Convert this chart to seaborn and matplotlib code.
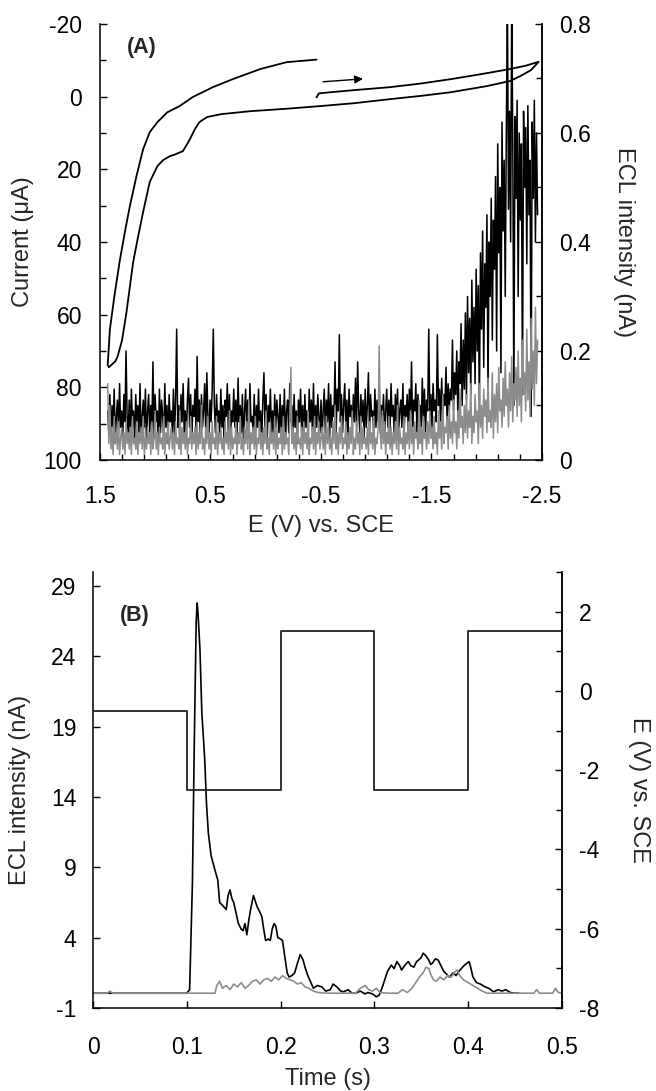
import numpy as np
import pandas as pd
import matplotlib
matplotlib.use("Agg")
import matplotlib.pyplot as plt
from matplotlib.ticker import FixedLocator, MultipleLocator, FuncFormatter
import seaborn as sns

# ---------------- Panel A data ----------------
# cyclic voltammogram (E in V vs SCE, current in uA; positive = anodic, plotted downward)
cv_e = [-0.46, -0.48, -0.58, -0.80, -1.12, -1.40, -1.67, -1.95, -2.21, -2.35, -2.47,
        -2.40, -2.30, -2.21, -2.00, -1.67, -1.40, -1.12, -0.80, -0.49, -0.20, 0.14, 0.40,
        0.53, 0.60, 0.64, 0.70, 0.75, 0.82, 0.87, 0.93, 0.98, 1.05, 1.11, 1.16, 1.20, 1.26,
        1.30, 1.34, 1.36, 1.42,
        1.43, 1.41, 1.37, 1.32, 1.27, 1.23, 1.17, 1.11, 1.05, 0.98, 0.89, 0.78, 0.66, 0.48,
        0.30, 0.05, -0.19, -0.46]
cv_i = [0.2, -0.9, -1.2, -1.8, -2.6, -3.6, -4.8, -6.2, -7.6, -8.5, -9.6,
        -7.3, -5.6, -4.3, -2.9, -1.2, -0.2, 0.7, 1.8, 2.6, 3.3, 4.0, 4.8,
        5.6, 7.0, 8.9, 12.5, 15.0, 15.9, 16.4, 17.5, 19.1, 23.5, 31.8, 39.3, 45.6, 59.3,
        67.0, 71.5, 72.8, 74.5,
        73.8, 64.0, 55.0, 45.0, 36.5, 30.2, 21.9, 14.5, 9.8, 7.0, 4.3, 2.6, 0.1, -2.6,
        -4.8, -7.6, -9.5, -10.2]

# ECL intensity recorded along the scan (in units of 0.01 nA), E = 1.43 V ... -2.46 V
ecl_e_start, ecl_e_end = 1.43, -2.46
ecl_black_a_centi = [
    9, 5, 12, 4, 10, 6, 13, 3, 8, 11, 5, 14, 6, 9, 4, 12, 7, 20, 8, 5,
    11, 4, 13, 6, 9, 3, 12, 7, 10, 5, 14, 4, 8, 11, 6, 13, 3, 9, 12, 5,
    10, 6, 18, 4, 12, 7, 9, 3, 13, 5, 11, 8, 4, 14, 6, 10, 3, 12, 7, 9,
    5, 13, 4, 11, 24, 6, 10, 3, 12, 7, 14, 5, 9, 4, 11, 15, 6, 12, 3, 10,
    8, 13, 5, 19, 7, 11, 4, 12, 6, 9, 14, 5, 16, 8, 4, 11, 7, 13, 24, 10,
    5, 12, 7, 9, 4, 13, 6, 10, 3, 11, 8, 14, 5, 12, 4, 9, 7, 13, 6, 11,
    4, 15, 7, 10, 5, 12, 3, 9, 13, 6, 11, 4, 14, 7, 8, 5, 12, 3, 10, 6,
    13, 5, 9, 4, 11, 16, 6, 12, 3, 10, 7, 13, 5, 9, 4, 12, 6, 11, 8, 5,
    12, 4, 10, 6, 13, 3, 9, 11, 5, 14, 7, 10, 4, 12, 6, 9, 3, 11, 7, 13,
    5, 10, 4, 12, 6, 9, 3, 13, 7, 11, 5, 14, 4, 10, 6, 12, 8, 5, 11, 4,
    9, 13, 5, 11, 7, 14, 4, 12, 6, 10, 8, 18, 5, 13, 9, 23, 7, 12, 5, 10,
    14, 6, 11, 4, 13, 8, 10, 5, 12, 7, 15, 6, 18, 9, 5, 12, 7, 11, 4, 13,
    6, 10, 16, 5, 12, 8, 9, 4, 13, 6, 11, 7, 14, 5, 10, 8, 12, 4, 9, 13,
    6, 11, 5, 14, 8, 10, 4, 12, 7, 13, 5, 9, 11, 6, 14, 4, 10, 8, 12, 5,
    13, 7, 18, 6, 11, 9, 14, 5, 12, 8, 10, 6, 15, 7, 13, 5, 11, 9, 24, 8,
    12, 6, 14, 9, 11, 7, 23, 10, 13, 6, 15, 8, 12, 10, 17, 7, 14, 9, 13, 11,
    22, 9, 16, 12, 20, 8, 18, 14, 25, 10, 22, 13, 27, 11, 30, 16, 26, 12, 33, 18,
    28, 14, 35, 20, 32, 9, 38, 24, 42, 17, 36, 28, 45, 12, 40, 30, 48, 22, 44, 35,
    52, 20, 58, 38, 50, 16, 62, 42, 55, 30, 60, 85, 46, 64, 40, 85, 58, 10, 63, 48,
    66, 30, 60, 44, 58, 12, 64, 50, 61, 36, 65, 45, 55, 8, 62, 48, 66, 40, 60, 45]
ecl_gray_a_centi = [
    14, 3, 10, 2, 6, 1, 8, 3, 5, 2, 7, 1, 4, 6, 2, 5, 1, 7, 3, 5,
    2, 6, 1, 8, 3, 4, 2, 7, 1, 5, 3, 6, 2, 8, 1, 4, 2, 6, 3, 5,
    1, 7, 2, 4, 9, 2, 5, 1, 6, 3, 4, 2, 8, 1, 5, 3, 7, 2, 4, 6,
    2, 5, 1, 7, 3, 4, 2, 9, 1, 6, 3, 5, 2, 7, 1, 4, 3, 8, 2, 5,
    3, 6, 1, 7, 2, 5, 3, 10, 2, 4, 1, 6, 3, 8, 2, 5, 1, 7, 3, 4,
    2, 8, 1, 5, 3, 6, 2, 4, 1, 7, 3, 5, 2, 9, 1, 6, 2, 4, 3, 7,
    1, 5, 3, 8, 2, 4, 1, 6, 3, 7, 2, 11, 1, 5, 3, 6, 2, 8, 1, 4,
    3, 7, 2, 5, 1, 6, 3, 9, 2, 4, 1, 7, 3, 5, 2, 8, 1, 6, 2, 4,
    3, 6, 1, 8, 2, 5, 3, 4, 1, 7, 17, 3, 6, 2, 5, 1, 8, 3, 4, 2,
    6, 1, 7, 3, 5, 2, 9, 1, 4, 3, 6, 2, 8, 1, 5, 3, 7, 2, 4, 6,
    2, 5, 1, 8, 3, 6, 2, 4, 1, 7, 3, 10, 2, 5, 1, 6, 3, 8, 2, 4,
    3, 7, 1, 5, 2, 6, 3, 9, 1, 4, 2, 7, 3, 5, 1, 8, 2, 6, 3, 4,
    2, 6, 1, 7, 3, 5, 2, 8, 1, 4, 3, 6, 21, 5, 2, 9, 3, 7, 1, 5,
    3, 8, 2, 6, 1, 5, 3, 7, 2, 10, 1, 6, 3, 4, 2, 8, 1, 5, 3, 7,
    2, 9, 3, 6, 1, 7, 4, 5, 2, 11, 3, 6, 1, 8, 4, 5, 2, 7, 3, 9,
    4, 6, 2, 8, 3, 5, 1, 9, 4, 7, 2, 12, 3, 6, 5, 8, 2, 10, 4, 7,
    3, 11, 5, 7, 2, 9, 4, 13, 6, 8, 3, 10, 5, 12, 4, 9, 6, 14, 3, 8,
    5, 12, 7, 9, 3, 14, 6, 10, 4, 13, 8, 11, 5, 15, 7, 9, 6, 16, 4, 12,
    7, 14, 5, 17, 9, 11, 6, 15, 8, 18, 10, 13, 6, 16, 9, 19, 7, 14, 11, 17,
    8, 20, 10, 15, 7, 22, 12, 16, 9, 24, 11, 18, 8, 26, 13, 20, 10, 28, 14, 22]

# ---------------- Panel B data ----------------
step_times = [0.0, 0.1, 0.2, 0.3, 0.4, 0.5]
step_levels = [-0.5, -2.5, 1.5, -2.5, 1.5, 1.5]

ecl_black_t = [0.0, 0.1, 0.103, 0.106, 0.108, 0.110, 0.111, 0.112, 0.114, 0.116, 0.119, 0.121, 0.123, 0.126,
               0.130, 0.133, 0.135, 0.138, 0.142, 0.144, 0.146, 0.148, 0.150, 0.153, 0.155, 0.158, 0.160, 0.162,
               0.164, 0.166, 0.168, 0.171, 0.173, 0.175, 0.178, 0.180, 0.182, 0.184, 0.187, 0.189, 0.191, 0.193,
               0.195, 0.197, 0.200, 0.202, 0.205, 0.207, 0.209, 0.212, 0.215, 0.218, 0.221, 0.224, 0.226, 0.229,
               0.231, 0.235, 0.239, 0.244, 0.248, 0.253, 0.256, 0.260, 0.264, 0.267, 0.272, 0.276, 0.280, 0.285,
               0.290, 0.293, 0.298, 0.302, 0.305, 0.308, 0.311, 0.314, 0.318, 0.321, 0.324, 0.327, 0.329, 0.332,
               0.336, 0.339, 0.342, 0.345, 0.347, 0.350, 0.352, 0.355, 0.358, 0.360, 0.362, 0.365, 0.368, 0.371,
               0.374, 0.377, 0.380, 0.384, 0.387, 0.390, 0.394, 0.397, 0.401, 0.403, 0.405, 0.409, 0.413, 0.418,
               0.422, 0.427, 0.432, 0.436, 0.440, 0.445, 0.450, 0.454]
ecl_black_v = [0.05, 0.05, 0.3, 8.0, 18.0, 26.5, 27.8, 27.0, 24.5, 20.0, 16.8, 13.5, 11.4, 9.8,
               8.8, 8.1, 6.5, 6.3, 6.0, 7.0, 7.4, 6.8, 6.5, 5.6, 5.0, 4.6, 4.5, 5.0,
               4.2, 5.2, 6.0, 7.0, 6.6, 6.2, 5.8, 5.5, 4.6, 3.8, 3.9, 3.8, 4.6, 5.0,
               4.8, 4.0, 3.9, 3.8, 2.4, 1.5, 1.2, 1.3, 1.5, 2.2, 2.8, 2.4, 1.9, 1.3,
               1.0, 0.4, 0.6, 0.5, 0.2, 0.3, 0.7, 0.5, 0.2, 0.15, 0.3, 0.05, 0.05, 0.2,
               0.0, 0.1, 0.0, -0.2, -0.1, 0.4, 1.0, 1.6, 2.05, 1.8, 2.3, 2.0, 1.7, 2.0,
               2.3, 2.0, 1.9, 2.3, 2.4, 2.6, 2.9, 2.7, 2.4, 2.1, 2.2, 2.5, 2.4, 2.0,
               1.6, 1.4, 1.2, 1.5, 1.3, 1.6, 1.9, 2.1, 2.3, 1.8, 1.2, 0.8, 0.7, 0.5,
               0.4, 0.15, 0.3, 0.2, 0.3, 0.1, 0.05, 0.05]

ecl_gray_t = [0.0, 0.015, 0.018, 0.021, 0.13, 0.132, 0.135, 0.138, 0.142, 0.146, 0.150, 0.154, 0.158,
              0.162, 0.166, 0.170, 0.174, 0.178, 0.182, 0.186, 0.190, 0.194, 0.198, 0.202, 0.206, 0.210,
              0.214, 0.218, 0.222, 0.226, 0.230, 0.235, 0.240, 0.250, 0.280, 0.285, 0.290, 0.294, 0.298,
              0.302, 0.306, 0.315, 0.325, 0.330, 0.335, 0.340, 0.344, 0.348, 0.352, 0.355, 0.358, 0.360,
              0.363, 0.366, 0.370, 0.374, 0.378, 0.382, 0.385, 0.388, 0.391, 0.395, 0.400, 0.405, 0.410,
              0.415, 0.420, 0.470, 0.473, 0.476, 0.490, 0.493, 0.496, 0.500]
ecl_gray_v = [0.05, 0.05, 0.2, 0.05, 0.05, 0.6, 0.9, 0.4, 0.6, 0.3, 0.7, 0.5, 0.8,
              0.4, 0.6, 0.9, 1.0, 0.7, 1.0, 1.1, 0.9, 1.2, 1.0, 1.3, 1.1, 1.0,
              0.9, 0.7, 0.8, 0.5, 0.4, 0.2, 0.1, 0.05, 0.05, 0.4, 0.6, 0.3, 0.2,
              0.4, 0.1, 0.05, 0.05, 0.3, 0.1, 0.4, 0.8, 1.2, 1.5, 1.9, 1.8, 1.4,
              1.0, 0.9, 1.2, 1.0, 1.3, 1.2, 1.5, 1.7, 1.3, 1.0, 0.8, 0.6, 0.4,
              0.2, 0.05, 0.05, 0.3, 0.05, 0.05, 0.4, 0.1, 0.05]

# ---------------- styling ----------------
sns.set_theme(style="ticks")
plt.rcParams['font.family'] = ['Liberation Sans', 'DejaVu Sans']
plt.rcParams.update({
    'axes.unicode_minus': False,
    'axes.linewidth': 1.1,
    'axes.edgecolor': 'black',
    'xtick.color': 'black', 'ytick.color': 'black',
    'xtick.direction': 'in', 'ytick.direction': 'in',
    'xtick.major.size': 5, 'ytick.major.size': 5,
    'xtick.minor.size': 4, 'ytick.minor.size': 4,
    'xtick.major.width': 1.0, 'ytick.major.width': 1.0,
    'xtick.minor.width': 1.0, 'ytick.minor.width': 1.0,
})
TICK_FS = 16.5
LAB_FS = 17

fmt1 = FuncFormatter(lambda v, p: "0" if abs(v) < 1e-9 else f"{v:.1f}")

fig = plt.figure(figsize=(6.56, 10.91), dpi=100)

# ---------------- Panel A ----------------
axA = fig.add_axes([0.1524, 0.5784, 0.6738, 0.3996])
axA2 = axA.twinx()

ecl_black_a = np.array(ecl_black_a_centi) / 100.0
ecl_gray_a = np.array(ecl_gray_a_centi) / 100.0
ecl_e = np.linspace(ecl_e_start, ecl_e_end, len(ecl_black_a))

sns.lineplot(x=cv_e, y=cv_i, ax=axA, sort=False, estimator=None, color='black', lw=1.3)
sns.lineplot(x=ecl_e, y=ecl_black_a, ax=axA2, sort=False, estimator=None, color='black', lw=1.1)
sns.lineplot(x=ecl_e, y=ecl_gray_a, ax=axA2, sort=False, estimator=None, color='#8c8c8c', lw=1.1)

axA.set_xlim(1.5, -2.5)
axA.set_ylim(100, -20)
axA2.set_ylim(0, 0.8)

axA.xaxis.set_major_locator(FixedLocator([1.5, 0.5, -0.5, -1.5, -2.5]))
axA.xaxis.set_minor_locator(FixedLocator([1.5 - 0.2 * k for k in range(21)]))
axA.xaxis.set_major_formatter(FuncFormatter(lambda v, p: f"{v:.1f}"))
axA.yaxis.set_major_locator(MultipleLocator(20))
axA.yaxis.set_minor_locator(MultipleLocator(10))
axA2.yaxis.set_major_locator(MultipleLocator(0.2))
axA2.yaxis.set_minor_locator(MultipleLocator(0.1))
axA2.yaxis.set_major_formatter(fmt1)

axA.tick_params(axis='both', which='both', direction='in', labelsize=TICK_FS, top=False, right=False)
axA.tick_params(axis='y', which='both', pad=13)
axA.tick_params(axis='x', which='both', pad=18)
axA2.tick_params(axis='y', which='both', direction='in', labelsize=TICK_FS, pad=12)

for ax in (axA, axA2):
    ax.spines['top'].set_visible(False)
axA2.spines['left'].set_visible(False)
axA2.spines['bottom'].set_visible(False)

axA.set_xlabel("E (V) vs. SCE", fontsize=LAB_FS, labelpad=5)
axA.set_ylabel("Current (\u03bcA)", fontsize=LAB_FS, labelpad=7)
axA2.set_ylabel("ECL intensity (nA)", fontsize=LAB_FS, rotation=270, labelpad=32)
axA.text(0.061, 0.947, "(A)", transform=axA.transAxes, fontsize=15.5, fontweight='bold',
         ha='left', va='center')
axA.annotate("", xy=(-0.88, -4.9), xytext=(-0.52, -4.1),
             arrowprops=dict(arrowstyle='-|>', mutation_scale=12, lw=1.0, color='black',
                             shrinkA=0, shrinkB=0))

# ---------------- Panel B ----------------
axB = fig.add_axes([0.1418, 0.0761, 0.7149, 0.3996])
axB2 = axB.twinx()

sns.lineplot(x=ecl_black_t, y=ecl_black_v, ax=axB, sort=False, estimator=None, color='black', lw=1.2)
sns.lineplot(x=ecl_gray_t, y=ecl_gray_v, ax=axB, sort=False, estimator=None, color='#8c8c8c', lw=1.2)
sns.lineplot(x=step_times, y=step_levels, ax=axB2, sort=False, estimator=None, color='#222222', lw=1.3,
             drawstyle='steps-post')

axB.set_xlim(0, 0.5)
axB.set_ylim(-1, 30)
axB2.set_ylim(-8, 3)
axB.xaxis.set_major_locator(MultipleLocator(0.1))
axB.xaxis.set_major_formatter(fmt1)
axB.yaxis.set_major_locator(FixedLocator([-1, 4, 9, 14, 19, 24, 29]))
axB2.yaxis.set_major_locator(MultipleLocator(2))
axB2.yaxis.set_minor_locator(MultipleLocator(1))

axB.tick_params(axis='both', which='both', direction='in', labelsize=TICK_FS, top=False, right=False)
axB.tick_params(axis='y', which='both', pad=12)
axB.tick_params(axis='x', which='both', pad=20)
axB2.tick_params(axis='y', which='both', direction='in', labelsize=TICK_FS, pad=12)

for ax in (axB, axB2):
    ax.spines['top'].set_visible(False)
axB2.spines['left'].set_visible(False)
axB2.spines['bottom'].set_visible(False)

axB.set_xlabel("Time (s)", fontsize=LAB_FS, labelpad=7)
axB.set_ylabel("ECL intensity (nA)", fontsize=LAB_FS, labelpad=14)
axB2.set_ylabel("E (V) vs. SCE", fontsize=LAB_FS, rotation=270, labelpad=37)
axB.text(0.058, 0.901, "(B)", transform=axB.transAxes, fontsize=15.5, fontweight='bold',
         ha='left', va='center')

fig.savefig("out.png", dpi=100)
